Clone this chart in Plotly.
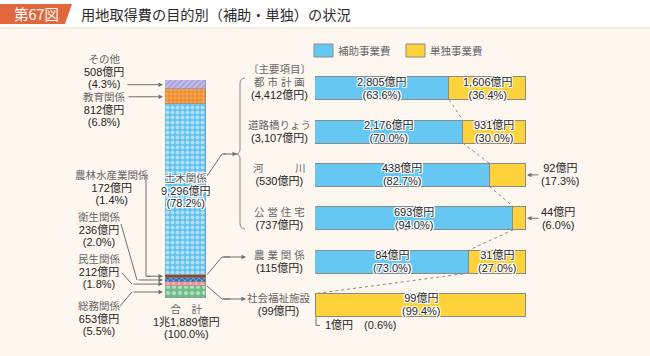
import plotly.graph_objects as go

W, H = 650, 356
FONT = "Liberation Sans, Noto Sans CJK JP"
CJK = "Noto Sans CJK JP"
BG = "#FDF7F0"
TXT = "#262626"
SUB = "#666666"
LINE = "#6f6f6f"
BLUE = "#66C8F2"
YELLOW = "#FDD23B"
HALO = "1px 1px 0 #fff, -1px -1px 0 #fff, 1px -1px 0 #fff, -1px 1px 0 #fff, 0 1px 0 #fff, 0 -1px 0 #fff, 1px 0 0 #fff, -1px 0 0 #fff"

# ---------------- data ----------------
# left stacked bar, bottom -> top
stack_names = ["総務関係", "民生関係", "衛生関係", "農林水産業関係", "土木関係", "教育関係", "その他"]
stack_values = [653, 212, 236, 172, 9296, 812, 508]
stack_pcts = [5.5, 1.8, 2.0, 1.4, 78.2, 6.8, 4.3]
total_label = "1兆1,889億円"
total_pct = 100.0

# right panel
items = ["都 市 計 画", "道路橋りょう", "河　　　川", "公 営 住 宅", "農 業 関 係", "社会福祉施設"]
item_totals = ["4,412", "3,107", "530", "737", "115", "99"]
subsidy_values = ["2,805", "2,176", "438", "693", "84", "1"]
subsidy_pcts = [63.6, 70.0, 82.7, 94.0, 73.0, 0.6]
single_values = ["1,606", "931", "92", "44", "31", "99"]
single_pcts = [36.4, 30.0, 17.3, 6.0, 27.0, 99.4]
series_names = ["補助事業費", "単独事業費"]

# ---------------- geometry (pixels) ----------------
SB_X0, SB_X1, SB_Y0, SB_Y1 = 165, 206, 80, 298
RB_X0, RB_X1 = 315, 526
ROW_TOP, ROW_STEP = 66.5, 43.35
n = len(items)
RB_Y1 = ROW_TOP + n * ROW_STEP
BAR_W = 0.53
NUM = 11      # size of amount lines
NAME = 10.5   # size of name lines
LS = 9.7      # base size -> line spacing = 1.3 * LS


def px(x):
    return x / W


def py(y):
    return 1 - y / H


total = sum(stack_values)


def sy(v):
    return SB_Y1 - v / total * (SB_Y1 - SB_Y0)


def row_y(i):
    return ROW_TOP + (i + 0.5) * ROW_STEP


def rx(p):
    return RB_X0 + p / 100 * (RB_X1 - RB_X0)


def span(s, size, color):
    return f"<span style='font-size:{size}px;color:{color}'>{s}</span>"


styles = {
    "総務関係": dict(bg="#6DBF8A", fg="#ffffff", shape=".", size=6, sol=0.35),
    "民生関係": dict(bg="#F6B8BC", fg="#E0404F", shape="x", size=4, sol=0.45),
    "衛生関係": dict(bg="#2F6FB8", fg="#ffffff", shape="x", size=4, sol=0.35),
    "農林水産業関係": dict(bg="#8C4A2A", fg="#8C4A2A", shape="", size=4, sol=0.3),
    "土木関係": dict(bg="#5EC0EE", fg="#ffffff", shape=".", size=5, sol=0.5),
    "教育関係": dict(bg="#F0892C", fg="#FBD3A6", shape="+", size=4, sol=0.35),
    "その他": dict(bg="#C3BBE8", fg="#8C82C8", shape="/", size=4, sol=0.4),
}

fig = go.Figure()

for name, v in zip(stack_names, stack_values):
    st = styles[name]
    fig.add_trace(go.Bar(
        x=[0], y=[v], width=1, xaxis="x", yaxis="y", name=name,
        marker=dict(color=st["bg"], line=dict(color="#8a8a8a", width=0.6),
                    pattern=dict(shape=st["shape"], bgcolor=st["bg"], fgcolor=st["fg"],
                                 size=st["size"], solidity=st["sol"])),
        hoverinfo="skip", showlegend=False))

rows = list(range(n))
fig.add_trace(go.Bar(y=rows, x=subsidy_pcts, orientation="h", xaxis="x2", yaxis="y2",
                     width=BAR_W, name=series_names[0],
                     marker=dict(color=BLUE, line=dict(color="#8a8a8a", width=1)),
                     hoverinfo="skip", showlegend=False))
fig.add_trace(go.Bar(y=rows, x=single_pcts, orientation="h", xaxis="x2", yaxis="y2",
                     width=BAR_W, name=series_names[1],
                     marker=dict(color=YELLOW, line=dict(color="#8a8a8a", width=1)),
                     hoverinfo="skip", showlegend=False))

shapes = []
ann = []


def txt(x, y, s, size=11, color=TXT, xanchor="center", halo=False, xref="paper", yref="paper",
        yshift=0, xshift=0, family=FONT):
    f = dict(family=family, size=size, color=color)
    if halo:
        f["shadow"] = HALO
    ann.append(dict(x=x, y=y, xref=xref, yref=yref, text=s, showarrow=False, xanchor=xanchor,
                    yanchor="middle", font=f, yshift=yshift, xshift=xshift, borderpad=0))


def arrow(tip_x, tip_y, tail_x, tail_y):
    ann.append(dict(x=px(tip_x), y=py(tip_y), xref="paper", yref="paper", text="",
                    showarrow=True, ax=tail_x - tip_x, ay=tail_y - tip_y, axref="pixel",
                    ayref="pixel", arrowhead=2, arrowsize=0.9, arrowwidth=1,
                    arrowcolor=LINE, standoff=0, startstandoff=0))


def poly(points, color=LINE, width=1, dash=None):
    d = "M " + " L ".join(f"{px(x)},{py(y)}" for x, y in points)
    ln = dict(color=color, width=width)
    if dash:
        ln["dash"] = dash
    shapes.append(dict(type="path", path=d, xref="paper", yref="paper", line=ln))


# ---------------- header ----------------
shapes.append(dict(type="rect", xref="paper", yref="paper", x0=0, x1=1, y0=py(28), y1=1,
                   fillcolor="#FFFFFF", line=dict(width=0), layer="below"))
shapes.append(dict(type="line", xref="paper", yref="paper", x0=0, x1=1, y0=py(28), y1=py(28),
                   line=dict(color="#F0DCCD", width=1)))
shapes.append(dict(type="path", xref="paper", yref="paper",
                   path=f"M {px(0)},{py(4)} L {px(72)},{py(4)} L {px(65)},{py(24)} L {px(0)},{py(24)} Z",
                   fillcolor="#E2673C", line=dict(width=0)))
txt(px(36), py(14), "第67図", size=14.5, color="#ffffff", family=CJK)
txt(px(80), py(14), "用地取得費の目的別（補助・単独）の状況", size=14.2, color="#2b2b2b",
    xanchor="left", family=CJK)

# ---------------- left stacked bar labels ----------------
cum = []
c = 0
for v in stack_values:
    cum.append((c, c + v))
    c += v
mid = {nm: (a + b) / 2 for nm, (a, b) in zip(stack_names, cum)}
top = {nm: b for nm, (a, b) in zip(stack_names, cum)}
bot = {nm: a for nm, (a, b) in zip(stack_names, cum)}

# (center x, middle-line y)
label_pos = {
    "その他": (104, 71),
    "教育関係": (104, 109),
    "農林水産業関係": (112, 187),
    "衛生関係": (99, 229),
    "民生関係": (99, 271),
    "総務関係": (99, 318),
}
for nm, v, p in zip(stack_names, stack_values, stack_pcts):
    if nm not in label_pos:
        continue
    cx, cy = label_pos[nm]
    s = span(nm, NAME, SUB) + "<br>" + span(f"{v:,}億円", NUM, TXT) + "<br>" + span(f"({p:.1f}%)", NUM, TXT)
    txt(px(cx), py(cy), s, size=LS)

TIP = 163
arrow(TIP, sy(mid["その他"]), 126, sy(mid["その他"]))
arrow(TIP, sy(mid["教育関係"]), 127, sy(mid["教育関係"]))
y_n = sy(mid["農林水産業関係"])
poly([(146, 176), (146, y_n), (150, y_n)])
arrow(TIP, y_n, 146, y_n)
y_e = sy(mid["衛生関係"])
poly([(121, 224), (137, y_e)])
arrow(TIP, y_e, 137, y_e)
y_m = sy(mid["民生関係"])
poly([(122, 273), (132, y_m)])
arrow(TIP, y_m, 132, y_m)
y_s = sy(mid["総務関係"])
poly([(120, 306), (132, y_s)])
arrow(TIP, y_s, 132, y_s)

# 土木関係 (inside bar)
i_d = stack_names.index("土木関係")
s = (span(stack_names[i_d], NAME, "#555555") + "<br>" + span(f"{stack_values[i_d]:,}億円", NUM, TXT)
     + "<br>" + span(f"({stack_pcts[i_d]:.1f}%)", NUM, TXT))
txt(px(186), py(190), s, size=LS, halo=True)

# total
s = (span("合　計", NAME, SUB) + "<br>" + span(total_label, NUM, TXT) + "<br>"
     + span(f"({total_pct:.1f}%)", NUM, TXT))
txt(px(186), py(321), s, size=LS)

# connector 土木 -> brace
poly([(SB_X1 + 1, 176), (222, 154), (226, 154)])
arrow(237, 154, 222, 154)

# brace
bx = 240
bt, bb, bm = 78, 229, 154
shapes.append(dict(type="path", xref="paper", yref="paper", line=dict(color="#888888", width=1),
                   path=(f"M {px(bx+5)},{py(bt)} Q {px(bx)},{py(bt)} {px(bx)},{py(bt+6)} "
                         f"L {px(bx)},{py(bm-5)} Q {px(bx)},{py(bm)} {px(bx-4)},{py(bm)} "
                         f"Q {px(bx)},{py(bm)} {px(bx)},{py(bm+5)} "
                         f"L {px(bx)},{py(bb-6)} Q {px(bx)},{py(bb)} {px(bx+5)},{py(bb)}")))

# connectors 農林 -> 農業関係, 民生 -> 社会福祉施設
y_top_n = sy(top["農林水産業関係"])
poly([(SB_X1 + 1, y_top_n), (222, 257), (230, 257)])
arrow(246, 257, 222, 257)
y_bot_m = sy(bot["民生関係"])
poly([(SB_X1 + 1, y_bot_m), (222, 299), (230, 299)])
arrow(246, 299, 222, 299)

# ---------------- right panel labels ----------------
txt(px(279), py(69), "〔主要項目〕", size=NAME, color=SUB)
for i in range(n):
    s = span(items[i], NAME, SUB) + "<br>" + span(f"({item_totals[i]}億円)", NUM, TXT)
    txt(px(279), i, s, size=LS, yref="y2")

    b, sp = subsidy_pcts[i], single_pcts[i]
    if b >= 5:
        s = span(f"{subsidy_values[i]}億円", NUM, TXT) + "<br>" + span(f"({b:.1f}%)", NUM, TXT)
        txt(b / 2, i, s, size=LS, xref="x2", yref="y2", halo=True)
    else:
        yb = row_y(i) + BAR_W / 2 * ROW_STEP
        poly([(rx(0) + 1, yb + 1), (rx(0) + 1, yb + 9), (rx(0) + 5, yb + 9)])
        txt(px(rx(0) + 9), py(yb + 9), f"{subsidy_values[i]}億円　({b:.1f}%)", size=NUM,
            color=TXT, xanchor="left")
    if sp >= 20:
        s = span(f"{single_values[i]}億円", NUM, TXT) + "<br>" + span(f"({sp:.1f}%)", NUM, TXT)
        txt(b + sp / 2, i, s, size=LS, xref="x2", yref="y2", halo=True)
    else:
        yc = row_y(i)
        arrow(rx(100) + 1, yc, rx(100) + 14, yc)
        s = span(f"{single_values[i]}億円", NUM, TXT) + "<br>" + span(f"({sp:.1f}%)", NUM, TXT)
        txt(px(rx(100) + 14), py(yc), s, size=LS, xanchor="left")

# dotted connectors between bars
for i in range(n - 1):
    shapes.append(dict(type="line", xref="x2", yref="y2",
                       x0=subsidy_pcts[i], y0=i + BAR_W / 2,
                       x1=subsidy_pcts[i + 1], y1=i + 1 - BAR_W / 2,
                       line=dict(color="#8a8a8a", width=1, dash="dot")))

# legend
for (x0, color, name) in [(314, BLUE, series_names[0]), (406, YELLOW, series_names[1])]:
    shapes.append(dict(type="rect", xref="paper", yref="paper", x0=px(x0), x1=px(x0 + 19),
                       y0=py(57), y1=py(44), fillcolor=color, line=dict(color="#8a8a8a", width=1)))
    txt(px(x0 + 23), py(50.5), name, size=NAME, color=SUB, xanchor="left")

fig.update_layout(
    width=W, height=H, margin=dict(l=0, r=0, t=0, b=0),
    paper_bgcolor=BG, plot_bgcolor="rgba(0,0,0,0)", barmode="stack", bargap=0,
    font=dict(family=FONT, color=TXT),
    xaxis=dict(domain=[px(SB_X0), px(SB_X1)], range=[-0.5, 0.5], visible=False, fixedrange=True),
    yaxis=dict(domain=[py(SB_Y1), py(SB_Y0)], range=[0, total], visible=False, anchor="x"),
    xaxis2=dict(domain=[px(RB_X0), px(RB_X1)], range=[0, 100], visible=False, anchor="y2"),
    yaxis2=dict(domain=[py(RB_Y1), py(ROW_TOP)], range=[n - 0.5, -0.5], visible=False,
                anchor="x2"),
    shapes=shapes, annotations=ann, showlegend=False,
)

fig.write_html("out.html", config={"displayModeBar": False},
               post_script="document.body.style.margin='0';document.body.style.overflow='hidden';")
